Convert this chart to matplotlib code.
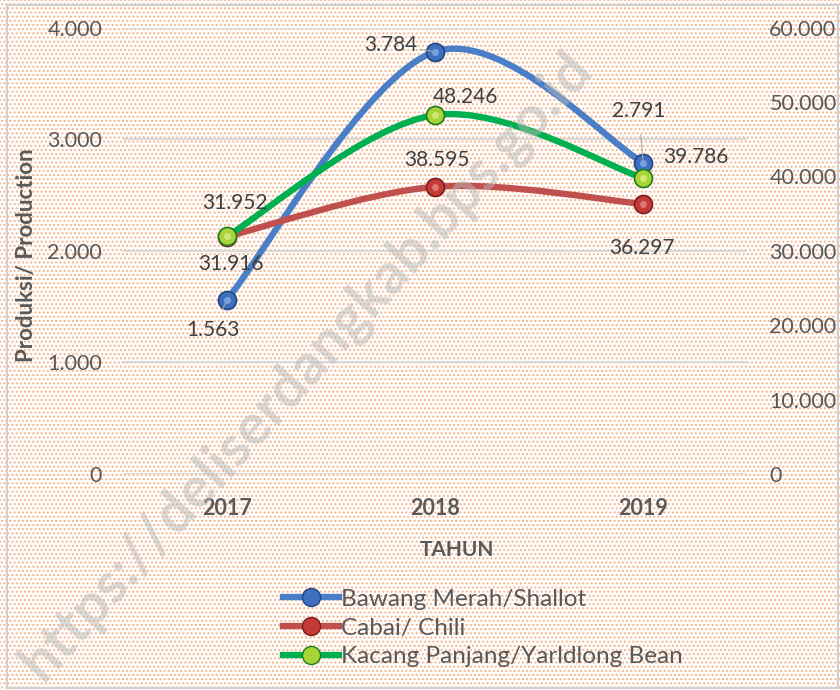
import numpy as np
import matplotlib
matplotlib.use("Agg")
import matplotlib.pyplot as plt
from matplotlib.path import Path
from matplotlib.patches import PathPatch, Rectangle
from matplotlib.lines import Line2D
from matplotlib.ticker import FuncFormatter, MultipleLocator

plt.rcParams['font.family'] = ['Lato', 'DejaVu Sans']

# data
years = ["2017", "2018", "2019"]
bawang = [1563, 3784, 2791]        # left axis
cabai = [31916, 38595, 36297]      # right axis
kacang = [31952, 48246, 39786]     # right axis

names = ["Bawang Merah/Shallot", "Cabai/ Chili", "Kacang Panjang/Yarldlong Bean"]

TXT = "#595959"
GRID = "#D9D9D9"


def thousands(v, pos=None):
    return f"{v:,.0f}".replace(",", ".")


def smooth_path(xs, ys):
    # excel-like smoothed line: cubic bezier with catmull-rom tangents
    pts = np.column_stack([xs, ys]).astype(float)
    n = len(pts)
    verts = [pts[0]]
    codes = [Path.MOVETO]
    for i in range(n - 1):
        p0 = pts[i - 1] if i > 0 else pts[i]
        p1 = pts[i]
        p2 = pts[i + 1]
        p3 = pts[i + 2] if i + 2 < n else pts[i + 1]
        c1 = p1 + (p2 - p0) / 6.0
        c2 = p2 - (p3 - p1) / 6.0
        verts += [c1, c2, p2]
        codes += [Path.CURVE4] * 3
    return Path(verts, codes)


def draw_series(ax, xs, ys, line_col, face, edge, hl, z):
    ax.add_patch(PathPatch(smooth_path(xs, ys), fill=False, edgecolor=line_col,
                           lw=4.6, capstyle='round', zorder=z))
    ax.plot(xs, ys, ls='none', marker='o', ms=13, mfc=face, mec=edge, mew=1.2, zorder=z + 0.1)
    ax.plot(xs, ys, ls='none', marker='o', ms=5, mfc=hl, mec='none', alpha=0.6, zorder=z + 0.2)


fig = plt.figure(figsize=(8.4, 6.9), dpi=100)

# dotted orange background + border
bg = Rectangle((0, 0), 1, 1, transform=fig.transFigure, facecolor='white',
               edgecolor='#F5B58A', hatch='....', lw=0, zorder=-2)
fig.patches.append(bg)
border = Rectangle((0.008, 0.003), 0.99, 0.99, transform=fig.transFigure, fill=False,
                   edgecolor='#D0D0D0', lw=1.5, zorder=-1)
fig.patches.append(border)

ax = fig.add_axes([0.1464, 0.313, 0.743, 0.647])
ax.set_facecolor('none')
ax2 = ax.twinx()
ax2.set_facecolor('none')

x = np.arange(1, len(years) + 1)

ax.set_xlim(0.5, 3.5)
ax.set_ylim(0, 4000)
ax2.set_ylim(0, 60000)
ax.yaxis.set_major_locator(MultipleLocator(1000))
ax2.yaxis.set_major_locator(MultipleLocator(10000))
ax.yaxis.set_major_formatter(FuncFormatter(thousands))
ax2.yaxis.set_major_formatter(FuncFormatter(thousands))
ax.grid(axis='y', color=GRID, lw=1.5)
ax.set_axisbelow(True)

for a in (ax, ax2):
    for s in a.spines.values():
        s.set_visible(False)
    a.tick_params(length=0, labelsize=15.5, labelcolor=TXT)
ax.tick_params(axis='y', pad=15)
ax2.tick_params(axis='y', pad=16)

ax.set_xticks(x)
ax.set_xticklabels(years, fontweight='bold', fontsize=15.5)
ax.tick_params(axis='x', pad=17)
ax.set_xlabel("TAHUN", fontweight='bold', fontsize=15, color=TXT)
ax.xaxis.set_label_coords(0.535, -0.148)
ax.set_ylabel("Produksi/ Production", fontweight='bold', fontsize=16, color=TXT)
ax.yaxis.set_label_coords(-0.138, 0.49)

draw_series(ax, x, bawang, '#4A7EC7', '#3D6FBF', '#22457F', '#9FC3F0', 3)
draw_series(ax2, x, cabai, '#C0504D', '#C43A36', '#7A1E1C', '#F2A09C', 3)
draw_series(ax2, x, kacang, '#00B050', '#A8D437', '#1E7A22', '#E8F5A0', 4)

lab = dict(fontsize=15, color='#404040', ha='center', va='center', zorder=6)
ax.annotate(thousands(bawang[0]), (x[0], bawang[0]), xytext=(-10, -22), textcoords='offset points',
            arrowprops=dict(arrowstyle='-', color='#A6A6A6', lw=0.8, shrinkA=6, shrinkB=2), **lab)
ax.annotate(thousands(bawang[1]), (x[1], bawang[1]), xytext=(-32, 5), textcoords='offset points',
            arrowprops=dict(arrowstyle='-', color='#A6A6A6', lw=0.8, shrinkA=16, shrinkB=2), **lab)
ax.annotate(thousands(bawang[2]), (x[2], bawang[2]), xytext=(-3, 37), textcoords='offset points',
            arrowprops=dict(arrowstyle='-', color='#A6A6A6', lw=0.8, shrinkA=8, shrinkB=2), **lab)

ax2.annotate(thousands(cabai[0]), (x[0], cabai[0]), xytext=(3, -20), textcoords='offset points', **lab)
ax2.annotate(thousands(cabai[1]), (x[1], cabai[1]), xytext=(1, 19), textcoords='offset points', **lab)
ax2.annotate(thousands(cabai[2]), (x[2], cabai[2]), xytext=(-1, -32), textcoords='offset points', **lab)

ax2.annotate(thousands(kacang[0]), (x[0], kacang[0]), xytext=(6, 24), textcoords='offset points', **lab)
ax2.annotate(thousands(kacang[1]), (x[1], kacang[1]), xytext=(22, 13), textcoords='offset points', **lab)
ax2.annotate(thousands(kacang[2]), (x[2], kacang[2]), xytext=(38, 15), textcoords='offset points', **lab)

# legend
handles = [
    Line2D([], [], color='#4A7EC7', lw=4.6, marker='o', ms=13, mfc='#3D6FBF', mec='#22457F'),
    Line2D([], [], color='#C0504D', lw=4.6, marker='o', ms=13, mfc='#C43A36', mec='#7A1E1C'),
    Line2D([], [], color='#00B050', lw=4.6, marker='o', ms=13, mfc='#A8D437', mec='#1E7A22'),
]
leg = fig.legend(handles, names, loc='center', bbox_to_anchor=(0.575, 1 - 628 / 690),
                 frameon=False, fontsize=17.5, labelcolor=TXT, handlelength=2.3,
                 handletextpad=0.1, labelspacing=0.32)

# watermark
fig.text(0.365, 0.47, "https://deliserdangkab.bps.go.id", rotation=48, fontsize=41,
         fontweight='bold', color='#B8B8B8', alpha=0.5, ha='center', va='center',
         rotation_mode='anchor', zorder=10)

fig.savefig("out.png", dpi=100)
